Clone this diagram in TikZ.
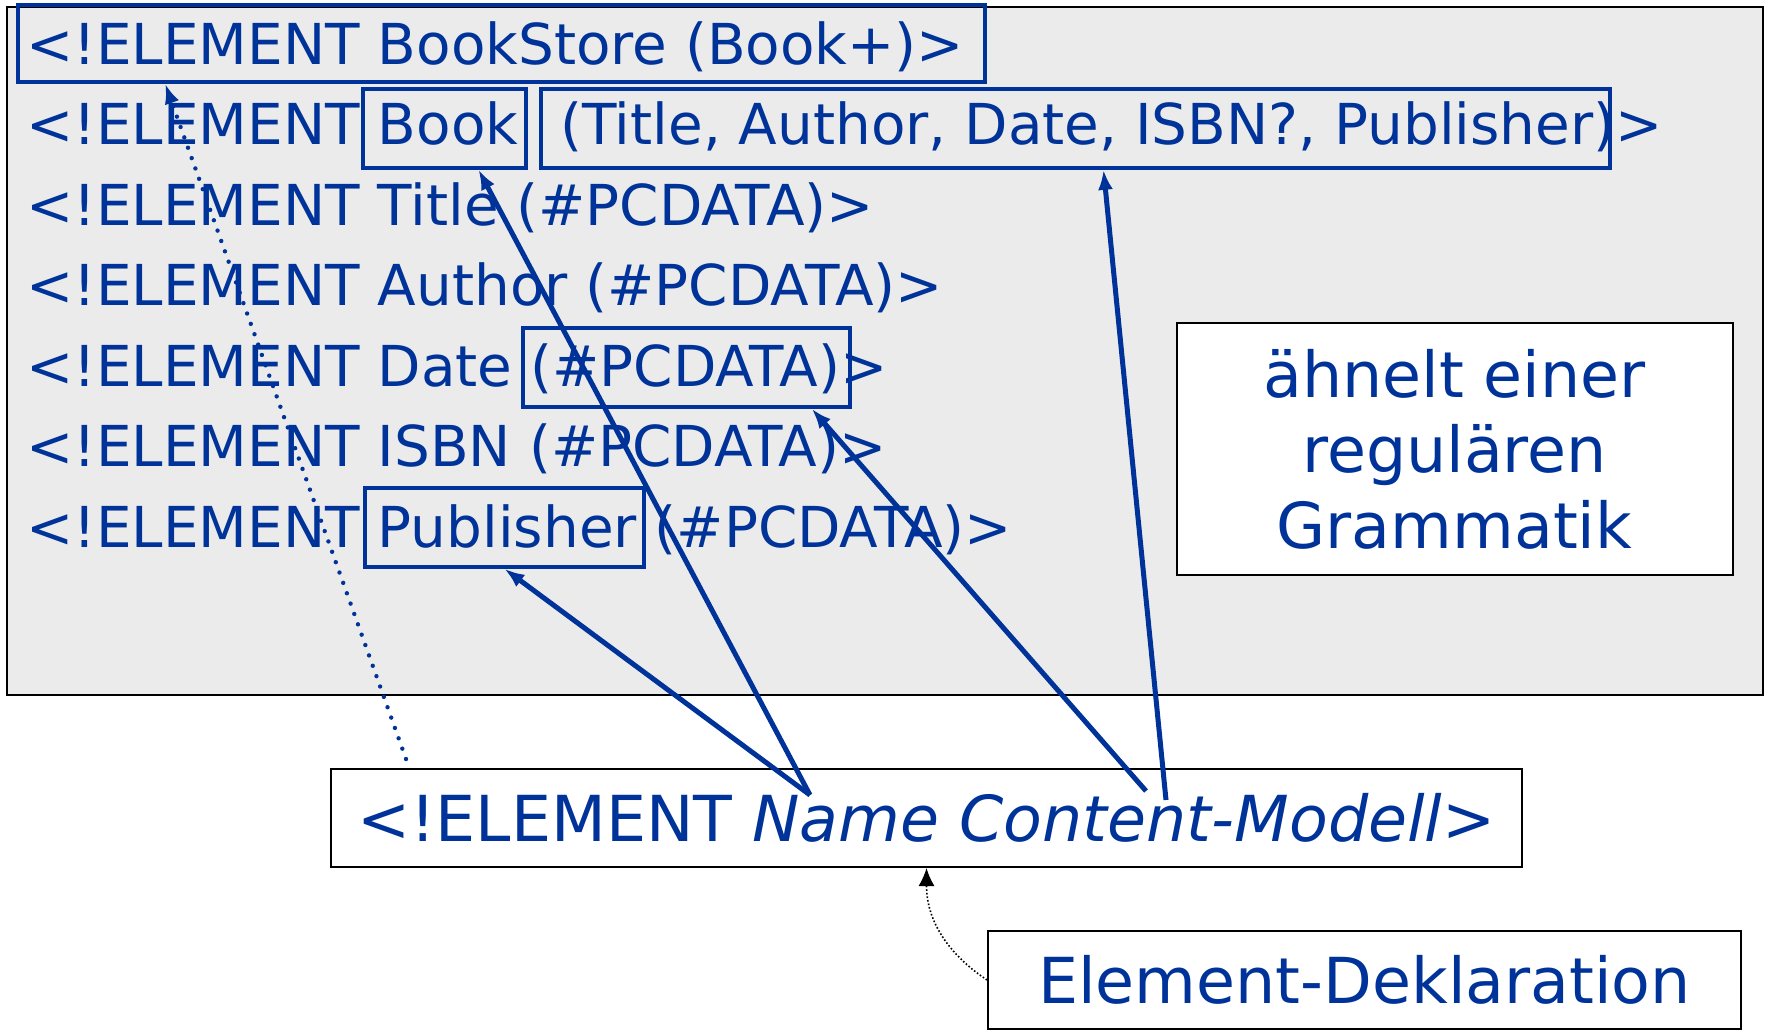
\documentclass[tikz,border=0pt]{standalone}
\usepackage{fontspec}
\setmainfont{DejaVu Sans}
\usetikzlibrary{fit,calc,arrows.meta}
\definecolor{dtdblue}{RGB}{0,51,153}
\definecolor{panelgray}{RGB}{235,235,235}
\tikzset{dtd/.style={anchor=base west, inner sep=0pt, text=dtdblue, font=\fontsize{28.2}{33}\selectfont}}
\tikzset{hl/.style={draw=dtdblue, line width=1.8pt, inner sep=0pt}}
\tikzset{boxed/.style={draw=black, line width=1pt, fill=white, text=dtdblue, inner sep=0pt, font=\fontsize{31.7}{37.7}\selectfont}}
\tikzset{refarrow/.style={draw=dtdblue, line width=2.5pt, -{Latex[length=10pt,width=7.5pt]}}}

\begin{document}
\begin{tikzpicture}[x=0.5pt,y=-0.5pt]
    \useasboundingbox (0,0) rectangle (1765,1030);
    \draw[line width=1.2pt, fill=panelgray] (7,7) rectangle (1763,695);
    \node[dtd] (rowbookstore) at (26,64) {<!ELEMENT BookStore (Book+)>};
    \node[dtd] (rowbook) at (26,144.5) {<!ELEMENT Book\hspace{12pt} (Title, Author, Date, ISBN?, Publisher)>};
    \node[dtd] (rowtitle) at (26,225) {<!ELEMENT Title (\#PCDATA)>};
    \node[dtd] (rowauthor) at (26,305.5) {<!ELEMENT Author (\#PCDATA)>};
    \node[dtd] (rowdate) at (26,386) {<!ELEMENT Date (\#PCDATA)>};
    \node[dtd] (rowisbn) at (26,466.5) {<!ELEMENT ISBN (\#PCDATA)>};
    \node[dtd] (rowpublisher) at (26,547) {<!ELEMENT Publisher (\#PCDATA)>};
    \node[hl, fit={(18,5) (985,82)}] (bxbookstore) {};
    \node[hl, fit={(363,89) (526,168)}] (bxbook) {};
    \node[hl, fit={(541,89) (1610,168)}] (bxcontent) {};
    \node[hl, fit={(523,328) (850,407)}] (bxpcdata) {};
    \node[hl, fit={(365,488) (644,567)}] (bxpublisher) {};
    \node[boxed, align=center, minimum width=278pt, minimum height=126pt] (note) at (1454.5,449) {ähnelt einer\\regulären\\Grammatik};
    \node[boxed, minimum width=595.5pt, minimum height=49pt] (decl) at (926.5,818) {<!ELEMENT \textit{Name Content-Modell}>};
    \node[boxed, minimum width=376.5pt, minimum height=49pt] (eldecl) at (1364.5,980) {Element-Deklaration};
    \coordinate (nametop) at (810,795);
    \coordinate (cmleft) at (1146,791);
    \coordinate (cmright) at (1166,800);
    \coordinate (dotstart) at (406,759);
    \draw[refarrow] (nametop) -- ($(bxbook.south)+(34,0)$);
    \draw[refarrow] (nametop) -- (bxpublisher.south);
    \draw[refarrow] (cmleft) -- ($(bxpcdata.south east)+(-40,0)$);
    \draw[refarrow] (cmright) -- ($(bxcontent.south)+(28,0)$);
    \draw[refarrow, line width=2.2pt, line cap=round, dash pattern=on 0pt off 5.5pt] (dotstart) -- ($(bxbookstore.south west)+(149,0)$);
    \draw[densely dotted, line width=0.8pt, -{Latex[length=9pt,width=8pt]}] (eldecl.west) .. controls ($(eldecl.west)+(-30,-20)$) and ($(decl.south)+(0,60)$) .. (decl.south);
\end{tikzpicture}
\end{document}
